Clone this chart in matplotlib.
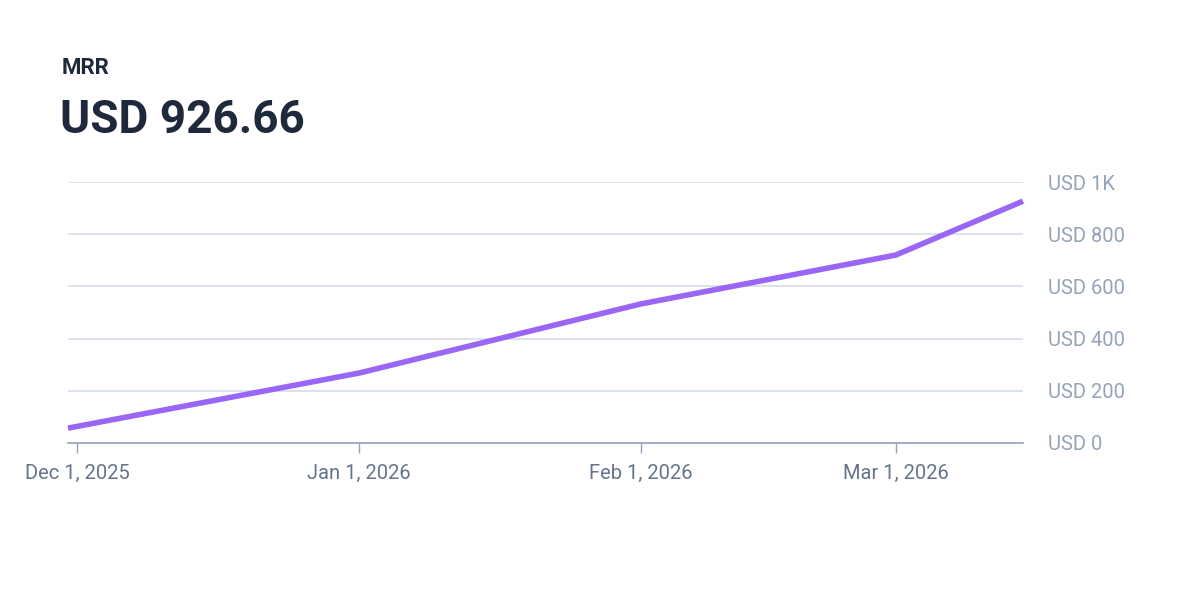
import matplotlib
matplotlib.use("Agg")
import matplotlib.pyplot as plt
import matplotlib.dates as mdates
import numpy as np
from datetime import datetime

plt.rcParams['font.family'] = ['Roboto', 'DejaVu Sans']

dates = [datetime(2025, 11, 30), datetime(2026, 1, 1), datetime(2026, 2, 1),
         datetime(2026, 3, 1), datetime(2026, 3, 15)]
mrr = [57, 268, 533, 720, 926.66]
yticks = [0, 200, 400, 600, 800, 1000]
ytick_labels = ['USD 0', 'USD 200', 'USD 400', 'USD 600', 'USD 800', 'USD 1K']
xticks = [datetime(2025, 12, 1), datetime(2026, 1, 1), datetime(2026, 2, 1), datetime(2026, 3, 1)]
xtick_labels = ['Dec 1, 2025', 'Jan 1, 2026', 'Feb 1, 2026', 'Mar 1, 2026']

fig = plt.figure(figsize=(12, 6), dpi=100)
fig.text(62 / 1200, 1 - 68 / 600, 'MRR', fontsize=16, fontweight='bold',
         color='#1e293b', va='center')
fig.text(60 / 1200, 1 - 120 / 600, 'USD 926.66', fontsize=33, fontweight='bold',
         color='#1e293b', va='center')

ax = fig.add_axes([68 / 1200, 157 / 600, 955 / 1200, 261 / 600])
ax.plot(dates, mrr, color='#9966f5', lw=4, solid_capstyle='butt', clip_on=False, zorder=3)
ax.set_xlim(dates[0], dates[-1])
ax.set_ylim(0, 1000)

ax.set_yticks(yticks)
ax.set_yticklabels(ytick_labels)
ax.yaxis.tick_right()
ax.tick_params(axis='y', length=0, pad=18, labelsize=14.5, labelcolor='#94a3b8')
ax.grid(axis='y', color='#d5dde8', lw=1.2)

ax.set_xticks(xticks)
ax.set_xticklabels(xtick_labels)
ax.tick_params(axis='x', length=7, width=1, color='#94a3b8', pad=8,
               labelsize=14.5, labelcolor='#64748b')

for s in ['top', 'left', 'right']:
    ax.spines[s].set_visible(False)
ax.spines['bottom'].set_color('#94a3b8')
ax.spines['bottom'].set_linewidth(1.2)
ax.set_axisbelow(True)

fig.savefig('out.png', dpi=100)
